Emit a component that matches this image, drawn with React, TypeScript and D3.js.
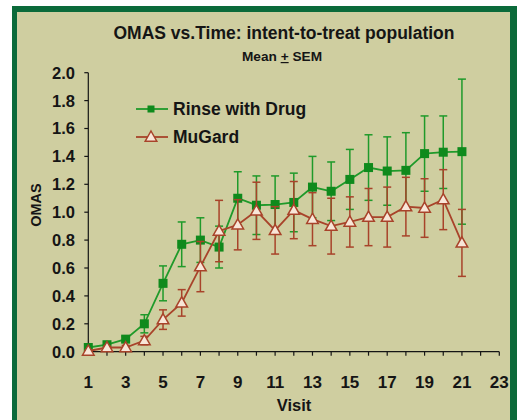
import * as d3 from "d3";

const visits = d3.range(1, 22);
const xTicks = d3.range(1, 24);
const xLabels = [1, 3, 5, 7, 9, 11, 13, 15, 17, 19, 21, 23];
const yTicks = [0, 0.2, 0.4, 0.6, 0.8, 1.0, 1.2, 1.4, 1.6, 1.8, 2.0];

const drugMean = [0.03, 0.05, 0.09, 0.2, 0.49, 0.77, 0.8, 0.75, 1.1, 1.05, 1.055, 1.07, 1.18, 1.15, 1.235, 1.32, 1.295, 1.3, 1.42, 1.43, 1.434];
const drugSem = [0.01, 0.01, 0.02, 0.065, 0.125, 0.16, 0.16, 0.15, 0.19, 0.21, 0.205, 0.21, 0.22, 0.21, 0.215, 0.235, 0.245, 0.27, 0.27, 0.26, 0.52];

const mugardMean = [0.005, 0.03, 0.03, 0.08, 0.23, 0.35, 0.61, 0.865, 0.91, 1.01, 0.87, 1.015, 0.95, 0.9, 0.93, 0.965, 0.965, 1.04, 1.03, 1.09, 0.78];
const mugardSem = [0.005, 0.01, 0.015, 0.03, 0.07, 0.095, 0.18, 0.22, 0.18, 0.205, 0.17, 0.205, 0.19, 0.2, 0.18, 0.205, 0.215, 0.21, 0.21, 0.215, 0.24];

const W = 517;
const H = 420;
const font = "'Liberation Sans', Arial, sans-serif";
const ink = "#151515";
const green = "#1f9a2a";
const brown = "#a8432a";

export default function App() {
  const x = d3.scaleLinear([1, 23], [88.3, 499.3]);
  const y = d3.scaleLinear([0, 2], [351.7, 72.7]);
  const line = d3.line<number>((d, i) => x(visits[i]), (d) => y(d));

  const errBars = (mean: number[], sem: number[], color: string) =>
    mean.map((m, i) => {
      const cx = x(visits[i]);
      const top = y(m + sem[i]);
      const bot = y(Math.max(0, m - sem[i]));
      return (
        <g key={i} stroke={color} strokeWidth={1.5}>
          <line x1={cx} x2={cx} y1={top} y2={bot} />
          <line x1={cx - 4} x2={cx + 4} y1={top} y2={top} />
          <line x1={cx - 4} x2={cx + 4} y1={bot} y2={bot} />
        </g>
      );
    });

  // little triangle marker, s = overall size
  const tri = (cx: number, cy: number, s: number) =>
    `M${cx},${cy - s * 0.6}L${cx + s * 0.58},${cy + s * 0.42}L${cx - s * 0.58},${cy + s * 0.42}Z`;

  return (
    <svg width={W} height={H} style={{ position: "absolute", left: 0, top: 0 }}>
      <rect x={0} y={0} width={W} height={H} fill="#ffffff" />
      <rect x={12} y={6} width={W - 12} height={H} fill="#0b6a3a" />
      <rect x={17} y={12} width={493} height={H} fill="#cfcea0" />

      <text x={284} y={39} textAnchor="middle" textLength={341} lengthAdjust="spacingAndGlyphs"
        fontFamily={font} fontWeight="bold" fontSize={18} fill={ink}>
        OMAS vs.Time: intent-to-treat population
      </text>
      <text x={282} y={61} textAnchor="middle" textLength={80} lengthAdjust="spacingAndGlyphs"
        fontFamily={font} fontWeight="bold" fontSize={12} fill={ink}>
        Mean <tspan textDecoration="underline">+</tspan> SEM
      </text>

      {/* y axis */}
      <line x1={x(1)} x2={x(1)} y1={y(0)} y2={y(2)} stroke={ink} strokeWidth={1.2} />
      {yTicks.map((t) => (
        <g key={t}>
          <line x1={x(1) - 4} x2={x(1)} y1={y(t)} y2={y(t)} stroke={ink} strokeWidth={1.2} />
          <text x={75} y={y(t)} dy="0.36em" textAnchor="end" fontFamily={font} fontWeight="bold" fontSize={16.5} fill={ink}>
            {t.toFixed(1)}
          </text>
        </g>
      ))}

      {/* x axis */}
      <line x1={x(1)} x2={x(23)} y1={y(0)} y2={y(0)} stroke={ink} strokeWidth={1.2} />
      {xTicks.map((t) => (
        <line key={t} x1={x(t)} x2={x(t)} y1={y(0)} y2={y(0) + 4} stroke={ink} strokeWidth={1.2} />
      ))}
      {xLabels.map((t) => (
        <text key={t} x={x(t)} y={388} textAnchor="middle" fontFamily={font} fontWeight="bold" fontSize={17} fill={ink}>
          {t}
        </text>
      ))}
      <text x={294} y={411} textAnchor="middle" fontFamily={font} fontWeight="bold" fontSize={16.5} fill={ink}>
        Visit
      </text>
      <text transform="translate(41,205) rotate(-90)" textAnchor="middle" fontFamily={font} fontWeight="bold" fontSize={14.5} fill={ink}>
        OMAS
      </text>

      {/* Rinse with Drug */}
      {errBars(drugMean, drugSem, green)}
      <path d={line(drugMean) ?? ""} fill="none" stroke={green} strokeWidth={1.8} />
      {drugMean.map((m, i) => (
        <rect key={i} x={x(visits[i]) - 4.5} y={y(m) - 4.5} width={9} height={9} fill="#0f8a1c" />
      ))}

      {/* MuGard */}
      {errBars(mugardMean, mugardSem, brown)}
      <path d={line(mugardMean) ?? ""} fill="none" stroke={brown} strokeWidth={1.8} />
      {mugardMean.map((m, i) => (
        <path key={i} d={tri(x(visits[i]), y(m), 10)} fill="#f8e6d8" stroke={brown} strokeWidth={1.5} />
      ))}

      {/* legend */}
      <line x1={136} x2={168} y1={109} y2={109} stroke={green} strokeWidth={1.8} />
      <rect x={147.5} y={105.5} width={7} height={7} fill="#0f8a1c" />
      <text x={173} y={109} dy="0.36em" fontFamily={font} fontWeight="bold" fontSize={17.5} fill={ink}>
        Rinse with Drug
      </text>
      <line x1={136} x2={168} y1={137} y2={137} stroke={brown} strokeWidth={1.8} />
      <path d={tri(151, 137, 10)} fill="#f8e6d8" stroke={brown} strokeWidth={1.5} />
      <text x={173} y={137} dy="0.36em" fontFamily={font} fontWeight="bold" fontSize={17.5} fill={ink}>
        MuGard
      </text>
    </svg>
  );
}
